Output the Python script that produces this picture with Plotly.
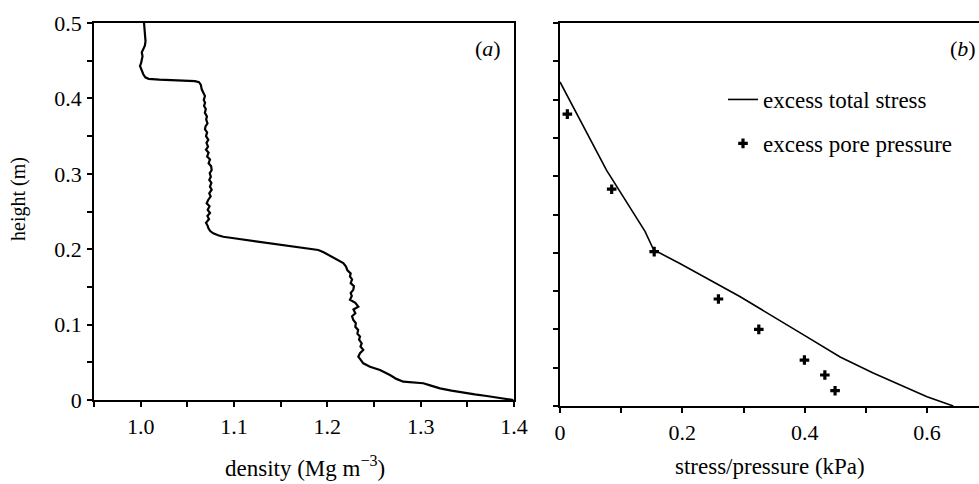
import plotly.graph_objects as go

# ---- panel (a): density profile ----
height_a = [0.500, 0.492, 0.484, 0.476, 0.470, 0.465, 0.461, 0.456, 0.452, 0.447,
            0.443, 0.439, 0.436, 0.432, 0.428, 0.426, 0.425, 0.4245, 0.4235, 0.4228,
            0.4215, 0.418, 0.412, 0.407, 0.403, 0.398, 0.394, 0.390, 0.386, 0.381,
            0.376, 0.372, 0.367, 0.363, 0.359, 0.355, 0.350, 0.345, 0.341, 0.336,
            0.332, 0.328, 0.323, 0.319, 0.314, 0.310, 0.305, 0.301, 0.296, 0.292,
            0.288, 0.283, 0.279, 0.274, 0.270, 0.265, 0.261, 0.257, 0.252, 0.248,
            0.244, 0.240, 0.235, 0.231, 0.228, 0.224, 0.221, 0.2185, 0.2165, 0.2145,
            0.2125, 0.210, 0.208, 0.206, 0.2036, 0.2015, 0.199, 0.196, 0.1926, 0.188,
            0.1815, 0.177, 0.172, 0.168, 0.1637, 0.160, 0.155, 0.151, 0.1461, 0.142,
            0.138, 0.133, 0.129, 0.1239, 0.120, 0.115, 0.111, 0.1062, 0.102, 0.097,
            0.093, 0.088, 0.0841, 0.080, 0.075, 0.071, 0.0664, 0.062, 0.0575, 0.053,
            0.0487, 0.0442, 0.0398, 0.0332, 0.0280, 0.0243, 0.0222, 0.0190, 0.0155, 0.0125,
            0.0097, 0.0075, 0.0053, 0.0035, 0.0023, 0.0]
density_a = [1.0036, 1.0040, 1.0042, 1.0052, 1.0045, 1.0028, 1.0012, 1.0020, 1.0016, 1.0005,
             0.9993, 1.0003, 1.0011, 1.0028, 1.0050, 1.0085, 1.0200, 1.0333, 1.0480, 1.0582,
             1.0625, 1.0645, 1.0654, 1.0672, 1.0689, 1.0676, 1.0690, 1.0679, 1.0698, 1.0688,
             1.0710, 1.0702, 1.0716, 1.0695, 1.0689, 1.0712, 1.0700, 1.0725, 1.0705, 1.0722,
             1.0700, 1.0728, 1.0712, 1.0743, 1.0728, 1.0755, 1.0761, 1.0740, 1.0752, 1.0735,
             1.0758, 1.0742, 1.0761, 1.0735, 1.0750, 1.0722, 1.0707, 1.0738, 1.0718, 1.0743,
             1.0715, 1.0732, 1.0700, 1.0718, 1.0725, 1.0745, 1.0778, 1.0830, 1.0885, 1.1000,
             1.1118, 1.1260, 1.1404, 1.1530, 1.1654, 1.1780, 1.1903, 1.1960, 1.2010, 1.2090,
             1.2171, 1.2200, 1.2215, 1.2250, 1.2243, 1.2265, 1.2250, 1.2285, 1.2278, 1.2250,
             1.2262, 1.2243, 1.2300, 1.2332, 1.2280, 1.2300, 1.2265, 1.2278, 1.2305, 1.2300,
             1.2330, 1.2322, 1.2350, 1.2340, 1.2368, 1.2355, 1.2385, 1.2350, 1.2332, 1.2360,
             1.2385, 1.2457, 1.2564, 1.2671, 1.2740, 1.2814, 1.3028, 1.3110, 1.3207, 1.3330,
             1.3457, 1.3580, 1.3708, 1.3800, 1.3886, 1.3993]

# ---- panel (b): excess total stress (line) and excess pore pressure (points) ----
stress_x = [0.0, 0.076, 0.139, 0.153, 0.196, 0.294, 0.403, 0.458, 0.512, 0.567, 0.600, 0.643]
stress_h = [0.423, 0.308, 0.228, 0.204, 0.186, 0.143, 0.0905, 0.064, 0.043, 0.023, 0.012, 0.0]
pore_x = [0.012, 0.0845, 0.154, 0.259, 0.325, 0.3996, 0.433, 0.4497]
pore_h = [0.381, 0.283, 0.2015, 0.1397, 0.100, 0.060, 0.0405, 0.020]

# ---- ticks ----
a_xticks = [0.95, 1.0, 1.05, 1.1, 1.15, 1.2, 1.25, 1.3, 1.35, 1.4]
a_xlabels = ["", "1.0", "", "1.1", "", "1.2", "", "1.3", "", "1.4"]
h_ticks = [0.0, 0.05, 0.1, 0.15, 0.2, 0.25, 0.3, 0.35, 0.4, 0.45, 0.5]
h_labels = ["0", "", "0.1", "", "0.2", "", "0.3", "", "0.4", "", "0.5"]
b_xticks = [0.0, 0.1, 0.2, 0.3, 0.4, 0.5, 0.6]
b_xlabels = ["0", "", "0.2", "", "0.4", "", "0.6"]

W, H = 979, 484
FONT = "Liberation Serif"

fig = go.Figure()
fig.add_trace(go.Scatter(x=density_a, y=height_a, mode="lines",
                         line=dict(color="black", width=2.2), showlegend=False,
                         xaxis="x", yaxis="y"))
fig.add_trace(go.Scatter(x=stress_x, y=stress_h, mode="lines", name="excess total stress",
                         line=dict(color="black", width=1.6), legendgroup="g1",
                         xaxis="x2", yaxis="y2"))
fig.add_trace(go.Scatter(x=pore_x, y=pore_h, mode="markers", name="excess pore pressure",
                         marker=dict(symbol="cross", size=8, color="black"), legendgroup="g2",
                         xaxis="x2", yaxis="y2"))

axcommon = dict(showline=True, linecolor="black", linewidth=1.5, ticks="outside",
                ticklen=5, tickwidth=1.5, tickcolor="black", showgrid=False, zeroline=False,
                automargin=False,
                tickfont=dict(family=FONT, size=22, color="black"))

fig.update_layout(
    width=W, height=H,
    margin=dict(l=0, r=0, t=0, b=0, autoexpand=False),
    paper_bgcolor="white", plot_bgcolor="white",
    font=dict(family=FONT, size=22, color="black"),
    xaxis=dict(domain=[94 / W, 514 / W], range=[0.95, 1.4], tickmode="array",
               tickvals=a_xticks, ticktext=a_xlabels, mirror=True, anchor="y",
               ticklabelstandoff=1, **axcommon),
    yaxis=dict(domain=[1 - 400 / H, 1 - 23 / H], range=[0, 0.5], tickmode="array",
               tickvals=h_ticks, ticktext=h_labels, mirror=True, anchor="x",
               ticklabelstandoff=1, **axcommon),
    xaxis2=dict(domain=[560 / W, 1.0], range=[0, 0.685], tickmode="array",
                tickvals=b_xticks, ticktext=b_xlabels, mirror=True, anchor="y2",
                ticklabelstandoff=1, **axcommon),
    yaxis2=dict(domain=[1 - 406 / H, 1 - 23 / H], range=[0, 0.5], tickmode="array",
                tickvals=h_ticks, ticktext=[""] * len(h_ticks), mirror=False, anchor="x2",
                **axcommon),
    legend=dict(x=723 / W, y=1 - 78 / H, xanchor="left", yanchor="top",
                bgcolor="rgba(0,0,0,0)", traceorder="grouped", tracegroupgap=11,
                font=dict(family=FONT, size=23, color="black")),
    annotations=[
        dict(text="height (m)", x=18 / W, y=1 - 199 / H, xref="paper", yref="paper",
             xanchor="center", yanchor="middle",
             textangle=-90, showarrow=False, font=dict(family=FONT, size=20)),
        dict(text="density (Mg m<sup>−3</sup>)", x=305 / W, y=1 - 466 / H,
             xanchor="center", yanchor="middle",
             xref="paper", yref="paper", showarrow=False, font=dict(family=FONT, size=23)),
        dict(text="stress/pressure (kPa)", x=770 / W, y=1 - 466 / H,
             xanchor="center", yanchor="middle",
             xref="paper", yref="paper", showarrow=False, font=dict(family=FONT, size=23)),
        dict(text="(<i>a</i>)", x=503 / W, y=1 - 48 / H, xref="paper", yref="paper",
             xanchor="right", yanchor="middle", showarrow=False,
             font=dict(family=FONT, size=22)),
        dict(text="(<i>b</i>)", x=978 / W, y=1 - 48 / H, xref="paper", yref="paper",
             xanchor="right", yanchor="middle", showarrow=False,
             font=dict(family=FONT, size=22)),
    ],
)

fig.write_html("out.html")
